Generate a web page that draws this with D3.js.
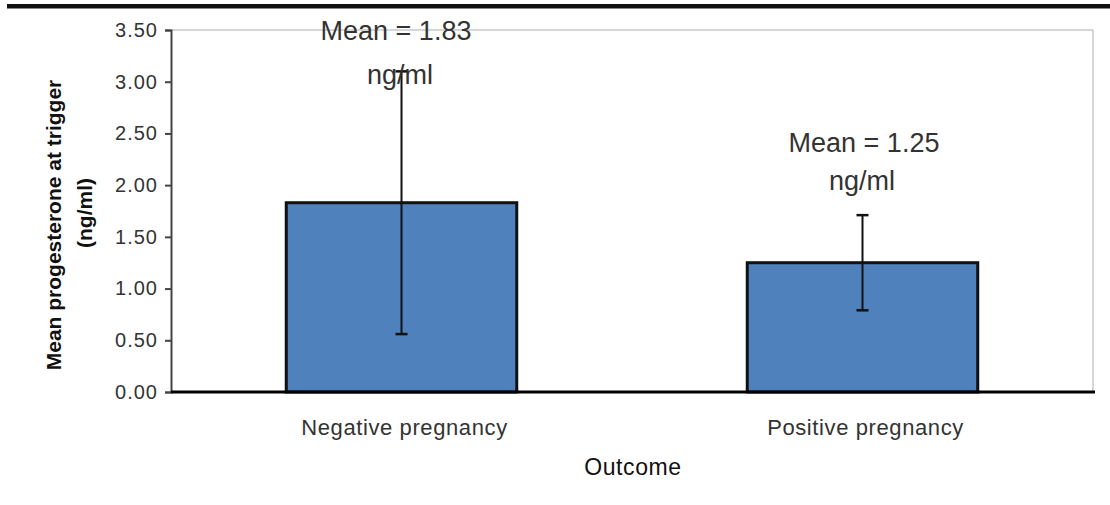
<!DOCTYPE html>
<html><head><meta charset="utf-8">
<script src="https://cdn.jsdelivr.net/npm/d3@7"></script>
<style>body{margin:0;background:#fff;} text{font-family:"Liberation Sans",Arial,sans-serif;}</style>
</head><body>
<svg id="c" width="1110" height="505"></svg>
<script>
const categories = ["Negative pregnancy", "Positive pregnancy"];
const means = [1.83, 1.25];
const sds = [1.27, 0.46];
const labelLines = [["Mean = 1.83", "ng/ml"], ["Mean = 1.25", "ng/ml"]];
const yTicks = [0, 0.5, 1, 1.5, 2, 2.5, 3, 3.5];

const svg = d3.select("#c");
const m = {l:171, r:1093, t:30, b:392};
const x = d3.scaleBand().domain(categories).range([m.l, m.r]).paddingInner(0.5).paddingOuter(0.25);
const y = d3.scaleLinear().domain([0, 3.5]).range([m.b, m.t]);

// top rule
svg.append("rect").attr("x",7).attr("y",4).attr("width",1103).attr("height",4).attr("fill","#111");
svg.append("rect").attr("x",7).attr("y",8).attr("width",1103).attr("height",1).attr("fill","#888");

// plot border (top and right)
svg.append("line").attr("x1",m.l).attr("x2",m.r).attr("y1",m.t).attr("y2",m.t).attr("stroke","#c8c8c8").attr("stroke-width",1.5);
svg.append("line").attr("x1",m.r).attr("x2",m.r).attr("y1",m.t).attr("y2",m.b).attr("stroke","#c8c8c8").attr("stroke-width",1.5);

// y axis
const ya = svg.append("g").attr("transform",`translate(${m.l},0)`)
  .call(d3.axisLeft(y).tickValues(yTicks).tickFormat(d3.format(".2f")).tickSize(6).tickPadding(7));
ya.select(".domain").attr("stroke","#444").attr("stroke-width",2);
ya.selectAll(".tick line").attr("stroke","#444").attr("stroke-width",2);
ya.selectAll(".tick text").attr("font-size",20).attr("fill","#333").style("font-family","'Liberation Sans',sans-serif").attr("letter-spacing","1");

// bars
svg.selectAll("rect.bar").data(categories).enter().append("rect")
  .attr("class","bar")
  .attr("x", d=>x(d)).attr("width", x.bandwidth())
  .attr("y", (d,i)=>y(means[i])).attr("height",(d,i)=>y(0)-y(means[i]))
  .attr("fill","#4f81bd").attr("stroke","#111").attr("stroke-width",3);

// x axis line
svg.append("line").attr("x1",m.l).attr("x2",m.r+2).attr("y1",y(0)).attr("y2",y(0)).attr("stroke","#000").attr("stroke-width",3);

// error bars
categories.forEach((c,i)=>{
  const cx = x(c)+x.bandwidth()/2;
  const g = svg.append("g");
  g.append("line").attr("x1",cx).attr("x2",cx).attr("y1",y(means[i]+sds[i])).attr("y2",y(means[i]-sds[i])).attr("stroke","#111").attr("stroke-width",2);
  [means[i]+sds[i], means[i]-sds[i]].forEach(v=>{
    g.append("line").attr("x1",cx-6).attr("x2",cx+6).attr("y1",y(v)).attr("y2",y(v)).attr("stroke","#111").attr("stroke-width",2.5);
  });
});

// mean labels
const labelPos = [[396, 40, 84, 400], [864, 152, 190, 862]];
labelLines.forEach((lines,i)=>{
  lines.forEach((t,j)=>{
    svg.append("text").attr("x", j===0 ? labelPos[i][0] : labelPos[i][3]).attr("y", labelPos[i][1+j])
      .attr("text-anchor","middle").attr("font-size",27).attr("fill","#333").text(t);
  });
});

// x category labels
categories.forEach(c=>{
  svg.append("text").attr("x", x(c)+x.bandwidth()/2 + 3).attr("y",435).attr("text-anchor","middle")
    .attr("font-size",22).attr("letter-spacing","0.6").attr("fill","#333").text(c);
});
svg.append("text").attr("x",633).attr("y",475).attr("text-anchor","middle").attr("font-size",23)
  .attr("letter-spacing","0.6").attr("fill","#111").text("Outcome");

// y title
const yt = svg.append("g").attr("transform","rotate(-90)");
yt.append("text").attr("x",-225).attr("y",61).attr("text-anchor","middle").attr("font-size",21).attr("font-weight","bold").attr("fill","#111")
  .text("Mean progesterone at trigger");
yt.append("text").attr("x",-213).attr("y",92).attr("text-anchor","middle").attr("font-size",21).attr("font-weight","bold").attr("fill","#111")
  .text("(ng/ml)");
</script>
</body></html>
